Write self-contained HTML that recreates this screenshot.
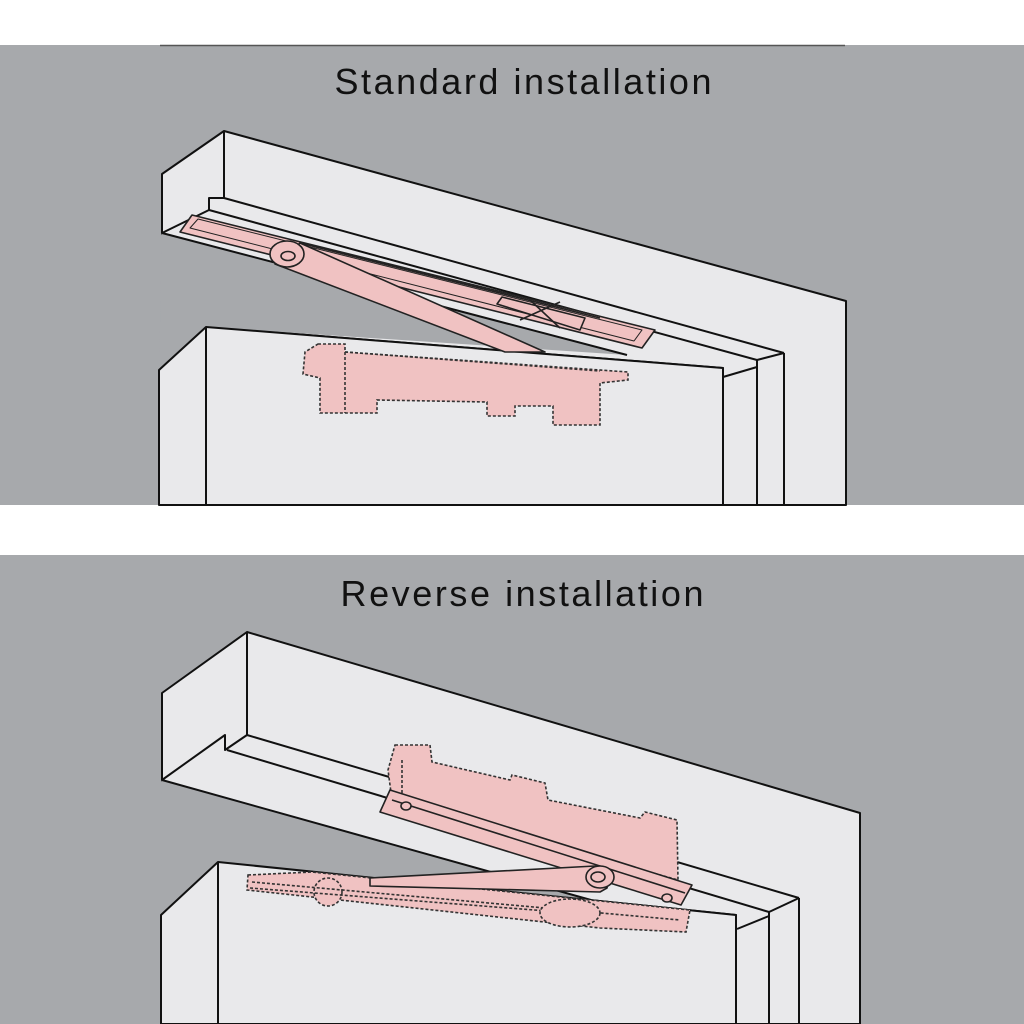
<!DOCTYPE html>
<html><head><style>
html,body{margin:0;padding:0;background:#fff;}
svg{display:block;}
text{font-family:"Liberation Sans",Arial,sans-serif;}
</style></head><body>
<svg width="1024" height="1024" viewBox="0 0 1024 1024" xmlns="http://www.w3.org/2000/svg">
<rect x="0" y="0" width="1024" height="1024" fill="#fff"/>
<!-- TOP PANEL -->
<rect x="0" y="45" width="1024" height="460" fill="#a7a9ac"/>
<line x1="160" y1="45.5" x2="845" y2="45.5" stroke="#555" stroke-width="1.5"/>
<text x="523" y="94" font-size="36" text-anchor="middle" textLength="377" fill="#111">Standard installation</text>
<g stroke="#111" stroke-width="2" fill="#e9e9eb" stroke-linejoin="round">
  <polygon points="162,174 224,131 846,301 846,505 723,505 723,368 206,327 162,233"/>
  <polygon points="162,233 627,355 206,327 159,367" fill="#a7a9ac" stroke="none"/>
  <line x1="162" y1="233" x2="627" y2="355"/>
  <line x1="224" y1="131" x2="224" y2="198"/>
  <polyline points="162,233 209,210 209,198 224,198 784,353" fill="none"/>
  <line x1="209" y1="210" x2="757" y2="360"/>
  <line x1="784" y1="353" x2="784" y2="505"/>
  <line x1="757" y1="360" x2="757" y2="505"/>
  <line x1="757" y1="360" x2="784" y2="353"/>
  <line x1="723" y1="377" x2="757" y2="367"/>
  <!-- door -->
  <polygon points="159,370 206,327 723,368 723,505 159,505"/>
  <line x1="206" y1="327" x2="206" y2="505"/>
</g>
<g stroke="#222" stroke-width="1.6" fill="#f0c2c2" stroke-linejoin="round">
  <polygon points="180,232 192,215 655,330 642,348"/>
  <polygon points="190,228 198,219 642,330 634,341" fill="none" stroke-width="1"/>
  <line x1="300" y1="243" x2="600" y2="318"/>
  <polygon points="275,264 300,243 545,352 505,352"/>
  <ellipse cx="287" cy="254" rx="17" ry="13"/>
  <ellipse cx="288" cy="256" rx="7" ry="4.5"/>
  <polygon points="497,304 502,297 585,318 580,330"/>
  <line x1="530" y1="300" x2="560" y2="328"/>
  <line x1="520" y1="320" x2="560" y2="302"/>
</g>
<g stroke="#333" stroke-width="1.6" stroke-dasharray="3,2" fill="#f0c2c2">
  <polygon points="318,344 345,344 345,352 628,372 628,380 600,383 600,425 553,425 553,406 515,406 515,416 487,416 487,402 377,400 377,413 320,413 320,378 303,374 305,352"/>
  <line x1="345" y1="352" x2="345" y2="413"/>
  <line x1="345" y1="352" x2="600" y2="371"/>
</g>

<!-- BOTTOM PANEL -->
<rect x="0" y="555" width="1024" height="469" fill="#a7a9ac"/>
<text x="522" y="606" font-size="36" text-anchor="middle" textLength="363" fill="#111">Reverse installation</text>
<g stroke="#111" stroke-width="2" fill="#e9e9eb" stroke-linejoin="round">
  <polygon points="162,693 247,632 860,813 860,1024 736,1024 736,915 218,862 162,780"/>
  <polygon points="162,780 591,900 218,862 161,915" fill="#a7a9ac" stroke="none"/>
  <line x1="162" y1="780" x2="591" y2="900"/>
  <line x1="247" y1="632" x2="247" y2="735"/>
  <polyline points="162,780 225,735 225,750 247,735 799,898" fill="none"/>
  <line x1="227" y1="750" x2="769" y2="912"/>
  <line x1="799" y1="898" x2="799" y2="1024"/>
  <line x1="769" y1="912" x2="769" y2="1024"/>
  <line x1="769" y1="912" x2="799" y2="898"/>
  <line x1="737" y1="929" x2="769" y2="916"/>
  <polygon points="161,915 218,862 736,915 736,1024 161,1024"/>
  <line x1="218" y1="862" x2="218" y2="1024"/>
</g>
<g stroke="#333" stroke-width="1.6" stroke-dasharray="3,2" fill="#f0c2c2">
  <polygon points="395,745 430,745 432,762 510,780 512,775 545,783 548,800 640,818 645,812 677,820 678,880 392,800 388,770"/>
  <line x1="402" y1="760" x2="402" y2="800"/>
  <polygon points="248,875 312,872 690,910 686,932 600,928 247,890"/>
  <ellipse cx="328" cy="892" rx="14" ry="14"/>
  <line x1="252" y1="882" x2="680" y2="920"/>
  <line x1="250" y1="888" x2="560" y2="912"/>
  <ellipse cx="570" cy="913" rx="30" ry="14"/>
</g>
<g stroke="#222" stroke-width="1.6" fill="#f0c2c2" stroke-linejoin="round">
  <polygon points="380,812 390,790 692,885 681,905"/>
  <line x1="392" y1="800" x2="685" y2="893"/>
  <ellipse cx="406" cy="806" rx="5" ry="4"/>
  <ellipse cx="667" cy="898" rx="5" ry="4"/>
  <polygon points="370,878 595,866 610,872 607,888 600,892 370,886"/>
  <ellipse cx="600" cy="877" rx="14" ry="11"/>
  <ellipse cx="598" cy="877" rx="7" ry="5"/>
</g>
</svg>
</body></html>
